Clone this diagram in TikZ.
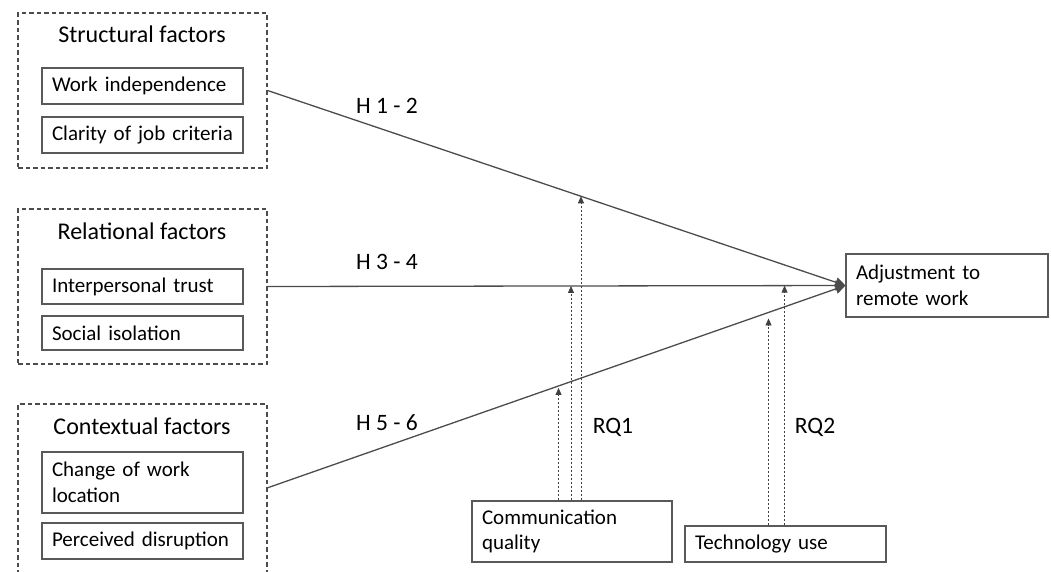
\documentclass[tikz,border=0pt]{standalone}
\usepackage{fontspec}
\setmainfont{Carlito}
\usetikzlibrary{arrows.meta,calc}
\begin{document}
\begin{tikzpicture}[x=1pt,y=-1pt,
  grp/.style={draw=black!70,line width=1.2pt,dash pattern=on 4.5pt off 3pt,minimum width=249pt,inner sep=0pt},
  item/.style={draw=black!65,line width=1.1pt,text width=181pt,inner xsep=10pt,inner ysep=0pt,align=left,font=\fontsize{21}{25.5}\selectfont,minimum height=36pt,text=black},
  ttl/.style={font=\fontsize{24}{28}\selectfont,text=black},
  lbl/.style={font=\fontsize{23.5}{28}\selectfont,text=black},
  main/.style={draw=black!70,line width=1.3pt,-{Triangle[length=10pt,width=10pt]}},
  mod/.style={draw=black!75,line width=0.8pt,dash pattern=on 2.5pt off 1.5pt,-{Triangle[length=7pt,width=6pt]}}
]
\useasboundingbox (0,0) rectangle (1051,571);

% groups
\node[grp,minimum height=155pt] (sf) at (142.5,90.5) {};
\node[grp,minimum height=155pt] (rf) at (142.5,286.5) {};
\node[grp,minimum height=176pt] (cf) at (142.5,492) {};

\node[ttl] (sft) at (142,34) {Structural factors};
\node[ttl] (rft) at (142,231) {Relational factors};
\node[ttl] (cft) at (142,426) {Contextual factors};

% items
\node[item] (wi) at (142.5,86) {Work independence};
\node[item] (cj) at (142.5,135) {Clarity of job criteria};
\node[item,minimum height=35pt] (it) at (142.5,286.5) {Interpersonal trust};
\node[item,minimum height=34pt] (si) at (142.5,333) {Social isolation};
\node[item,minimum height=61pt] (cw) at (142.5,482.5) {Change of work\\location};
\node[item] (pd) at (142.5,541) {Perceived disruption};

\node[item,text width=182pt,minimum height=63pt] (adj) at (947,285.5) {Adjustment to\\remote work};
\node[item,text width=180pt,minimum height=61pt] (cq) at (572,531.5) {Communication\\quality};
\node[item] (tu) at (785.5,544) {Technology use};

% main paths
\coordinate (c3) at (267,488);
\draw[main] (sf.east) -- (adj.west);
\draw[main] (rf.east) -- (adj.west);
\draw[main] (c3) -- (adj.west);

\node[lbl] (h12) at (387,106) {H 1 - 2};
\node[lbl] (h34) at (387,262) {H 3 - 4};
\node[lbl] (h56) at (387,423) {H 5 - 6};

% moderation points
\coordinate (m1) at ($(c3)!0.504!(adj.west)+(0,2)$);
\coordinate (m2) at ($(rf.east)!0.525!(adj.west)$);
\coordinate (m3) at ($(sf.east)!0.5423!(adj.west)$);
\coordinate (m4) at ($(rf.east)!0.8946!(adj.west)$);
\coordinate (m5) at ($(c3)!0.867!(adj.west)+(0,6)$);

\draw[mod] (m1 |- cq.north) -- (m1);
\draw[mod] (m2 |- cq.north) -- (m2);
\draw[mod] (m3 |- cq.north) -- (m3);
\draw[mod] (m5 |- tu.north) -- (m5);
\draw[mod] (m4 |- tu.north) -- (m4);

\node[lbl] (rq1) at (613,427) {RQ1};
\node[lbl] (rq2) at (815,427) {RQ2};
\end{tikzpicture}
\end{document}
